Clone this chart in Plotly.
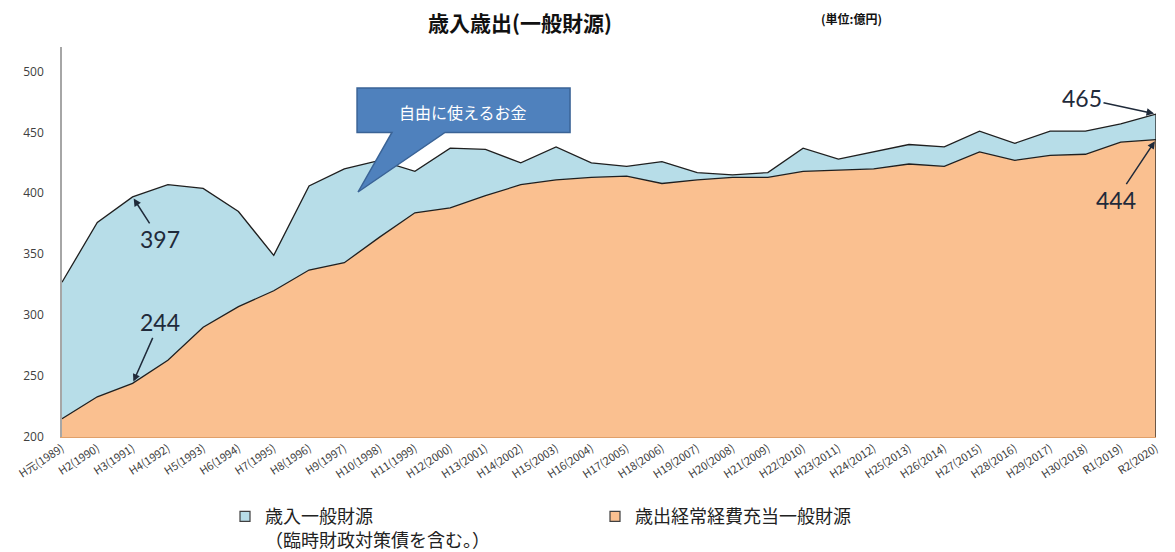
import plotly.graph_objects as go

years = ["H元(1989)", "H2(1990)", "H3(1991)", "H4(1992)", "H5(1993)", "H6(1994)", "H7(1995)",
         "H8(1996)", "H9(1997)", "H10(1998)", "H11(1999)", "H12(2000)", "H13(2001)", "H14(2002)",
         "H15(2003)", "H16(2004)", "H17(2005)", "H18(2006)", "H19(2007)", "H20(2008)", "H21(2009)",
         "H22(2010)", "H23(2011)", "H24(2012)", "H25(2013)", "H26(2014)", "H27(2015)", "H28(2016)",
         "H29(2017)", "H30(2018)", "R1(2019)", "R2(2020)"]

revenue = [327, 376, 397, 407, 404, 385, 349, 406, 420, 427, 418, 437, 436, 425, 438, 425,
           422, 426, 417, 415, 417, 437, 428, 434, 440, 438, 451, 441, 451, 451, 457, 465]

expenditure = [215, 233, 244, 263, 290, 307, 320, 337, 343, 364, 384, 388, 398, 407, 411, 413,
               414, 408, 411, 413, 413, 418, 419, 420, 424, 422, 434, 427, 431, 432, 442, 444]

name_rev = "歳入一般財源<br>（臨時財政対策債を含む。）"
name_exp = "歳出経常経費充当一般財源"

col_rev = "#b7dde8"
col_exp = "#fac090"
line_col = "#1f1f1f"
cjk = "Noto Sans CJK JP"

xs = list(range(len(years)))

fig = go.Figure()
fig.add_trace(go.Scatter(x=xs, y=expenditure, mode="lines", fill="tozeroy",
                         fillcolor=col_exp, line=dict(color=line_col, width=1.3),
                         showlegend=False, hoverinfo="skip"))
fig.add_trace(go.Scatter(x=xs, y=revenue, mode="lines", fill="tonexty",
                         fillcolor=col_rev, line=dict(color=line_col, width=1.3),
                         showlegend=False, hoverinfo="skip"))
# right border of the area
fig.add_trace(go.Scatter(x=[xs[-1], xs[-1]], y=[200, revenue[-1]], mode="lines",
                         line=dict(color=line_col, width=1.3), showlegend=False, hoverinfo="skip"))
# legend proxies
fig.add_trace(go.Scatter(x=[None], y=[None], mode="markers", name=name_rev,
                         marker=dict(symbol="square", size=10, color=col_rev,
                                     line=dict(color="#404040", width=1.2))))
fig.add_trace(go.Scatter(x=[None], y=[None], mode="markers", name=name_exp,
                         marker=dict(symbol="square", size=10, color=col_exp,
                                     line=dict(color="#404040", width=1.2))))

# callout shape
fig.add_shape(type="path", xref="paper", yref="paper",
              path="M 0.2697,0.8949 L 0.4644,0.8949 L 0.4644,0.7808 L 0.3501,0.7808 "
                   "L 0.2706,0.6282 L 0.3016,0.7808 L 0.2697,0.7808 Z",
              fillcolor="#4f81bd", line=dict(color="#3a6396", width=1.5), layer="above")

num_font = dict(family="Lato", size=23, color="#1f2a3a")
annotations = [
    dict(text="自由に使えるお金", xref="paper", yref="paper", x=0.3666, y=0.8333,
         xanchor="center", yanchor="middle", showarrow=False,
         font=dict(family=cjk, size=16, color="white")),
    dict(text="<b>歳入歳出(一般財源)</b>", xref="paper", yref="paper", x=0.4186, y=1.064,
         xanchor="center", yanchor="middle", showarrow=False,
         font=dict(family=cjk, size=21, color="#111111")),
    dict(text="<b>(単位:億円)</b>", xref="paper", yref="paper", x=0.722, y=1.072,
         xanchor="center", yanchor="middle", showarrow=False,
         font=dict(family=cjk, size=12, color="#111111")),
    dict(text="397", x=2, y=revenue[2], ax=27, ay=42, showarrow=True, arrowhead=2,
         arrowsize=1, arrowwidth=1.5, arrowcolor="#1f2a3a", standoff=2, font=num_font),
    dict(text="244", x=2, y=expenditure[2], ax=27, ay=-61, showarrow=True, arrowhead=2,
         arrowsize=1, arrowwidth=1.5, arrowcolor="#1f2a3a", standoff=2, font=num_font),
    dict(text="465", x=31, y=revenue[-1], ax=-74, ay=-16, showarrow=True, arrowhead=2,
         arrowsize=1, arrowwidth=1.5, arrowcolor="#1f2a3a", standoff=2, font=num_font),
    dict(text="444", x=31, y=expenditure[-1], ax=-40, ay=60, showarrow=True, arrowhead=2,
         arrowsize=1, arrowwidth=1.5, arrowcolor="#1f2a3a", standoff=2, font=num_font),
]

fig.update_layout(
    width=1167, height=544,
    margin=dict(l=54, r=19, t=39, b=115, autoexpand=False),
    paper_bgcolor="white", plot_bgcolor="white",
    annotations=annotations,
    showlegend=True,
    legend=dict(orientation="h", xref="paper", x=0.149, xanchor="left",
                yref="container", y=0.099, yanchor="top",
                entrywidth=325, entrywidthmode="pixels", valign="top", traceorder="normal",
                font=dict(family=cjk, size=18, color="#222222"), itemwidth=30,
                bgcolor="rgba(0,0,0,0)"),
    xaxis=dict(range=[0, 31], tickmode="array", tickvals=xs, ticktext=years,
               tickangle=-33, showgrid=False, zeroline=False, showline=True,
               linecolor="#e0a06a", linewidth=1, ticks="", automargin=False,
               tickfont=dict(family=cjk, size=11, color="#404040")),
    yaxis=dict(range=[200, 520], tickvals=[200, 250, 300, 350, 400, 450, 500],
               showgrid=False, zeroline=False, showline=True, linecolor="#a6a6a6",
               linewidth=1.5, ticks="", ticklabelstandoff=14, automargin=False,
               tickfont=dict(family="Open Sans", size=12, color="#404040")),
)

fig.write_html("out.html")
